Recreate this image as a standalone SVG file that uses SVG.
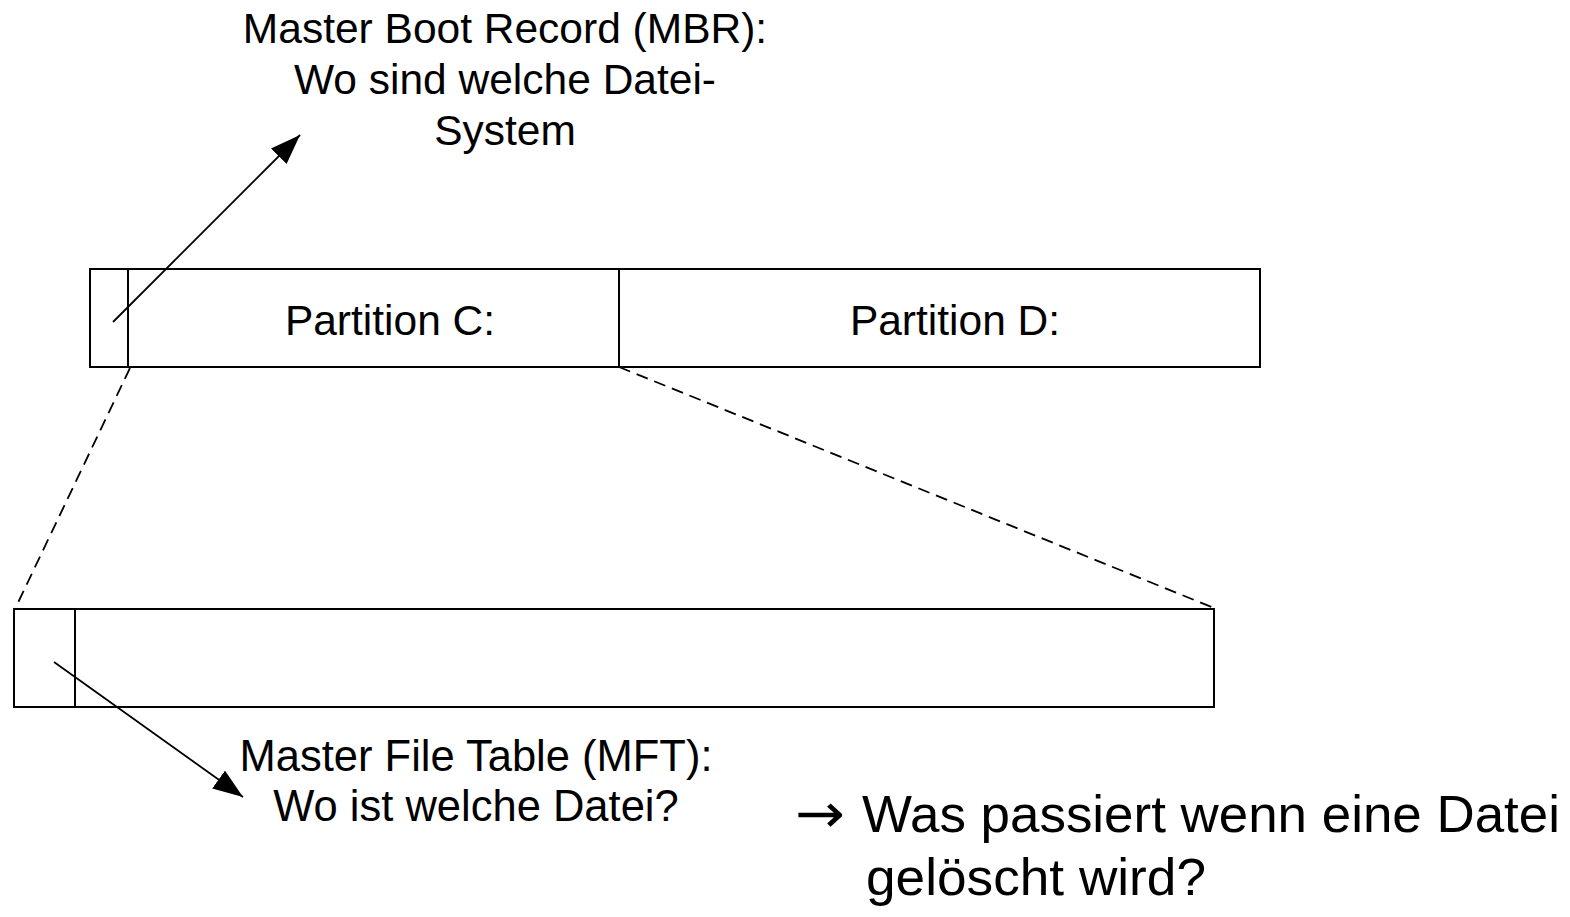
<svg xmlns="http://www.w3.org/2000/svg" width="1570" height="917" viewBox="0 0 1570 917">
  <style>
    .box { fill: #fff; stroke: #000; stroke-width: 2; }
    .div { stroke: #000; stroke-width: 2; }
    .dash { stroke: #000; stroke-width: 1.8; stroke-dasharray: 12 7; fill: none; }
    .arr { stroke: #000; stroke-width: 1.8; fill: none; marker-end: url(#head); }
    text { font-family: "Liberation Sans", Arial, sans-serif; fill: #000; }
    .lbl { font-size: 42.5px; text-anchor: middle; }
    .q { font-size: 52px; }
    .sym { font-family: "DejaVu Sans", sans-serif; font-size: 54px; }
  </style>
  <defs>
    <marker id="head" viewBox="0 0 10 10" refX="10" refY="5" markerWidth="30" markerHeight="22" markerUnits="userSpaceOnUse" orient="auto" preserveAspectRatio="none">
      <path d="M0,0 L10,5 L0,10 z" fill="#000"/>
    </marker>
  </defs>

  <g id="disk">
    <rect class="box" x="90" y="269" width="1170" height="98"/>
    <line class="div" x1="128" y1="269" x2="128" y2="367"/>
    <line class="div" x1="619" y1="269" x2="619" y2="367"/>
    <text class="lbl" x="390" y="335">Partition C:</text>
    <text class="lbl" x="955" y="335">Partition D:</text>
  </g>

  <g id="partition-c">
    <rect class="box" x="14" y="609" width="1200" height="98"/>
    <line class="div" x1="75" y1="609" x2="75" y2="707"/>
  </g>

  <g id="mbr-label">
    <text class="lbl" x="505" y="43">Master Boot Record (MBR):</text>
    <text class="lbl" x="505" y="94">Wo sind welche Datei-</text>
    <text class="lbl" x="505" y="145">System</text>
  </g>

  <g id="mft-label">
    <text class="lbl" x="476" y="771" style="font-size:43.5px">Master File Table (MFT):</text>
    <text class="lbl" x="476" y="821" style="font-size:43.5px">Wo ist welche Datei?</text>
  </g>

  <g id="question">
    <text class="sym" x="795" y="832" textLength="50" lengthAdjust="spacingAndGlyphs">→</text>
    <text class="q" x="862" y="832" textLength="698" lengthAdjust="spacingAndGlyphs">Was passiert wenn eine Datei</text>
    <text class="q" x="866" y="895" textLength="340" lengthAdjust="spacingAndGlyphs">gelöscht wird?</text>
  </g>

  <g id="connectors">
    <line class="dash" x1="130" y1="368" x2="15" y2="609"/>
    <line class="dash" x1="619" y1="367" x2="1214" y2="608"/>
    <line class="arr" x1="113" y1="322" x2="300" y2="135"/>
    <line class="arr" x1="54" y1="662" x2="243" y2="797"/>
  </g>
</svg>
